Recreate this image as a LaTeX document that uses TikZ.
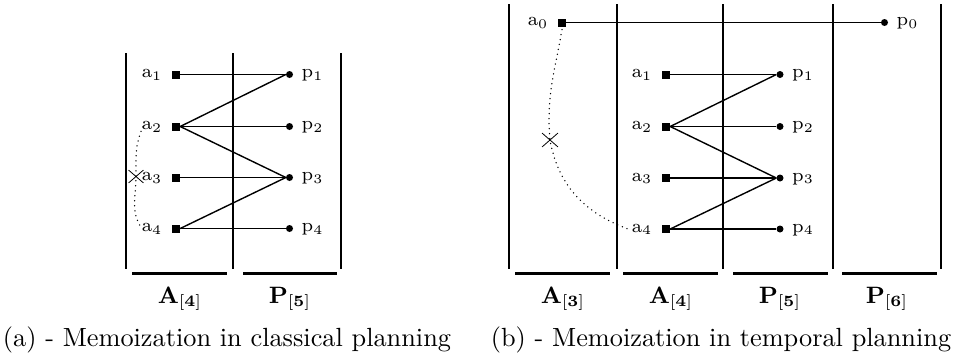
\documentclass[tikz,border=0pt]{standalone}
\usetikzlibrary{shapes.misc}
\begin{document}
\begin{tikzpicture}[x=1pt,y=-1pt,
  sepline/.style={line width=2pt},
  barline/.style={line width=2.8pt},
  conn/.style={line width=1.4pt},
  act/.style={rectangle,fill=black,minimum size=8pt,inner sep=0pt},
  prop/.style={circle,fill=black,minimum size=7pt,inner sep=0pt},
  lab/.style={font=\fontsize{7}{8.5}\selectfont,scale=2.63,inner sep=0pt},
  setlab/.style={font=\fontsize{9}{11}\selectfont,scale=2.63,inner sep=0pt,anchor=base},
  captext/.style={font=\fontsize{10}{12}\selectfont,scale=2.63,inner sep=0pt,anchor=base},
  crossmark/.style={cross out,draw,minimum width=14pt,minimum height=12pt,inner sep=0pt,line width=0.8pt},
  dotline/.style={line width=1.5pt,line cap=round,dash pattern=on 0pt off 5pt}]
\useasboundingbox (0,0) rectangle (960,360);

% ---------- (a) ----------
\foreach \x in {126,233,341} \draw[sepline] (\x,53) -- (\x,269);
\draw[barline] (132,273.5) -- (227,273.5);
\draw[barline] (243,273.5) -- (337,273.5);
\node[setlab] (lA4) at (180,303) {$\mathbf{A}_{\mathbf{[4]}}$};
\node[setlab] (lP5) at (290,303) {$\mathbf{P}_{\mathbf{[5]}}$};

\foreach \i/\y in {1/74.5,2/126.5,3/177.5,4/228.5}{
  \node[act] (la\i) at (176,\y) {};
  \node[prop] (lp\i) at (289.5,\y) {};
  \node[lab,anchor=base east] (la\i l) at ([xshift=-9pt,yshift=-3pt]la\i.west) {$\mathrm{a}_{\i}$};
  \node[lab,anchor=base west] (lp\i l) at ([xshift=8pt,yshift=-3pt]lp\i.east) {$\mathrm{p}_{\i}$};
}
\draw[conn] (la1.east) -- (lp1.west);
\draw[conn] (la2.east) -- (lp1.west);
\draw[conn] (la2.east) -- (lp2.west);
\draw[conn] (la2.east) -- (lp3.west);
\draw[conn] (la3.east) -- (lp3.west);
\draw[conn] (la4.east) -- (lp3.west);
\draw[conn] (la4.east) -- (lp4.west);
\node[crossmark] (lx) at (136,176.5) {};
\draw[dotline] ([xshift=2pt]la2l.west) to[out=-115,in=90] (lx.center) to[out=-90,in=125] ([xshift=1pt]la4l.west);
\node[captext] (capa) at (227,346) {(a) - Memoization in classical planning};

% ---------- (b) ----------
\foreach \x in {509,617,723,833,941} \draw[sepline] (\x,4) -- (\x,269);
\draw[barline] (515,273.5) -- (610,273.5);
\draw[barline] (623,273.5) -- (718,273.5);
\draw[barline] (733,273.5) -- (828,273.5);
\draw[barline] (842,273.5) -- (937,273.5);
\node[setlab] (rA3) at (563,303) {$\mathbf{A}_{\mathbf{[3]}}$};
\node[setlab] (rA4) at (671,303) {$\mathbf{A}_{\mathbf{[4]}}$};
\node[setlab] (rP5) at (780,303) {$\mathbf{P}_{\mathbf{[5]}}$};
\node[setlab] (rP6) at (887,303) {$\mathbf{P}_{\mathbf{[6]}}$};

\node[act] (ra0) at (562,22.5) {};
\node[prop] (rp0) at (884.5,22.5) {};
\node[lab,anchor=base east] (ra0l) at ([xshift=-9pt,yshift=-3pt]ra0.west) {$\mathrm{a}_{0}$};
\node[lab,anchor=base west] (rp0l) at ([xshift=8pt,yshift=-3pt]rp0.east) {$\mathrm{p}_{0}$};
\foreach \i/\y in {1/74.5,2/126.5,3/178,4/229}{
  \node[act] (ra\i) at (666,\y) {};
  \node[prop] (rp\i) at (780,\y) {};
  \node[lab,anchor=base east] (ra\i l) at ([xshift=-9pt,yshift=-3pt]ra\i.west) {$\mathrm{a}_{\i}$};
  \node[lab,anchor=base west] (rp\i l) at ([xshift=8pt,yshift=-3pt]rp\i.east) {$\mathrm{p}_{\i}$};
}
\draw[conn] (ra0.east) -- (rp0.west);
\draw[conn] (ra1.east) -- (rp1.west);
\draw[conn] (ra2.east) -- (rp1.west);
\draw[conn] (ra2.east) -- (rp2.west);
\draw[conn] (ra2.east) -- (rp3.west);
\draw[conn] (ra3.east) -- (rp3.west);
\draw[conn] (ra4.east) -- (rp3.west);
\draw[conn] (ra4.east) -- (rp4.west);
\node[crossmark,minimum width=15pt,minimum height=13pt] (rx) at (550,140) {};
\draw[dotline] ([yshift=-3pt]ra0.south) to[out=-100,in=95] (rx.center) to[out=-80,in=160] ([xshift=-2pt]ra4l.west);
\node[captext] (capb) at (721,346) {(b) - Memoization in temporal planning};
\end{tikzpicture}
\end{document}
